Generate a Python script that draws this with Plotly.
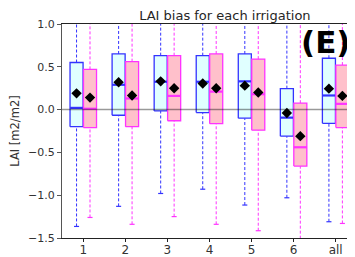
import plotly.graph_objects as go

categories = ["1", "2", "3", "4", "5", "6", "all"]
positions = [1, 2, 3, 4, 5, 6, 7]

# blue series (lightcyan boxes)
blue_q1 = [-0.20, -0.066, -0.015, -0.035, -0.10, -0.31, -0.16]
blue_med = [0.02, 0.29, 0.325, 0.325, 0.33, -0.094, 0.165]
blue_q3 = [0.55, 0.65, 0.63, 0.63, 0.65, 0.245, 0.60]
blue_low = [-1.365, -1.13, -0.98, -0.93, -1.115, -1.03, -1.31]
blue_high = [1.6, 1.6, 1.6, 1.6, 1.6, 1.6, 1.6]
blue_mean = [0.19, 0.32, 0.33, 0.305, 0.28, -0.04, 0.245]

# pink series (pink boxes)
pink_q1 = [-0.21, -0.20, -0.13, -0.165, -0.24, -0.66, -0.21]
pink_med = [0.01, 0.13, 0.16, 0.21, 0.18, -0.44, 0.067]
pink_q3 = [0.47, 0.56, 0.63, 0.65, 0.59, 0.075, 0.52]
pink_low = [-1.26, -1.34, -1.25, -1.34, -1.415, -1.8, -1.33]
pink_high = [1.6, 1.6, 1.6, 1.6, 1.6, 1.6, 1.6]
pink_mean = [0.14, 0.165, 0.25, 0.25, 0.20, -0.31, 0.16]

y_ticks = [1.0, 0.5, 0.0, -0.5, -1.0, -1.5]
y_ticktext = ["1.0", "0.5", "0.0", "\u22120.5", "\u22121.0", "\u22121.5"]

OFFSET = 0.16
BOXW = 0.31
CAPW = 0.12

fig = go.Figure()


def add_series(offset, q1, med, q3, low, high, mean, edge, fill):
    xs = [p + offset for p in positions]
    # whiskers (dashed)
    wx, wy = [], []
    for x, a, b, c, d in zip(xs, low, q1, q3, high):
        wx += [x, x, None, x, x, None]
        wy += [a, b, None, c, d, None]
    fig.add_trace(go.Scatter(x=wx, y=wy, mode="lines",
                             line=dict(color=edge, width=1, dash="3px,2px"),
                             hoverinfo="skip", showlegend=False))
    # caps
    cx, cy = [], []
    for x, a, d in zip(xs, low, high):
        cx += [x - CAPW / 2, x + CAPW / 2, None, x - CAPW / 2, x + CAPW / 2, None]
        cy += [a, a, None, d, d, None]
    fig.add_trace(go.Scatter(x=cx, y=cy, mode="lines",
                             line=dict(color=edge, width=1.2),
                             hoverinfo="skip", showlegend=False))
    # boxes as filled rectangles
    for x, a, b in zip(xs, q1, q3):
        l, r = x - BOXW / 2, x + BOXW / 2
        fig.add_trace(go.Scatter(x=[l, r, r, l, l], y=[a, a, b, b, a], mode="lines",
                                 fill="toself", fillcolor=fill,
                                 line=dict(color=edge, width=1.3),
                                 hoverinfo="skip", showlegend=False))
    # medians (thicker)
    mx, my = [], []
    for x, m in zip(xs, med):
        mx += [x - BOXW / 2, x + BOXW / 2, None]
        my += [m, m, None]
    fig.add_trace(go.Scatter(x=mx, y=my, mode="lines",
                             line=dict(color=edge, width=2.2),
                             hoverinfo="skip", showlegend=False))
    # means
    fig.add_trace(go.Scatter(x=xs, y=mean, mode="markers",
                             marker=dict(symbol="diamond", size=8, color="black"),
                             hoverinfo="skip", showlegend=False))


add_series(-OFFSET, blue_q1, blue_med, blue_q3, blue_low, blue_high, blue_mean,
           "#3333ff", "#e0ffff")
add_series(OFFSET, pink_q1, pink_med, pink_q3, pink_low, pink_high, pink_mean,
           "#ff33ff", "#ffc0cb")

fig.add_shape(type="line", xref="paper", x0=0, x1=1, yref="y", y0=0, y1=0,
              line=dict(color="rgba(0,0,0,0.4)", width=1.5), layer="above")

fig.add_annotation(text="<b>(E)</b>", xref="paper", yref="paper",
                   x=0.90, y=0.918, xanchor="center", yanchor="middle",
                   showarrow=False,
                   font=dict(size=31, color="black", family="DejaVu Sans"))

# the page body has an 8px margin, so the figure is sized/offset to compensate
fig.update_layout(
    width=347, height=249,
    margin=dict(l=54, r=0, t=16, b=19, autoexpand=False),
    paper_bgcolor="white", plot_bgcolor="white",
    font=dict(family="DejaVu Sans", color="#262626"),
    title=dict(text="LAI bias for each irrigation", x=0.625, xanchor="center",
               y=0.970, yanchor="middle", font=dict(size=13, color="#262626")),
    xaxis=dict(range=[0.494, 7.46], tickvals=positions, ticktext=categories,
               showgrid=False, zeroline=False, showline=True, mirror=True,
               linecolor="#222222", linewidth=1, ticks="outside", ticklen=3,
               tickcolor="#222222", ticklabelstandoff=-2,
               tickfont=dict(size=12, color="#333333")),
    yaxis=dict(range=[-1.5, 1.0], tickvals=y_ticks, ticktext=y_ticktext,
               showgrid=False, zeroline=False, showline=True, mirror=False,
               linecolor="#555555", linewidth=1, ticks="outside", ticklen=4,
               tickcolor="#555555", tickfont=dict(size=11, color="#333333"),
               title=dict(text="LAI [m2/m2]", font=dict(size=11.5, color="#333333"),
                          standoff=11)),
)

fig.write_html("out.html")
